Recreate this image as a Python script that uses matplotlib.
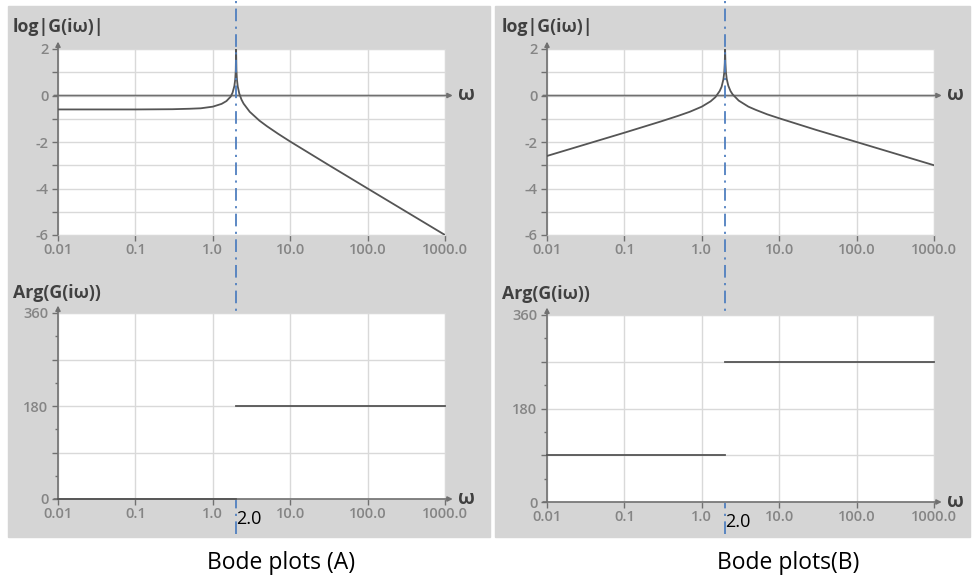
import numpy as np
import matplotlib.pyplot as plt
from matplotlib.patches import Rectangle
from matplotlib.ticker import FixedLocator, FuncFormatter, MultipleLocator

plt.rcParams['font.family'] = ['Open Sans', 'DejaVu Sans']

# values
xticks = [0.01, 0.1, 1.0, 10.0, 100.0, 1000.0]
xlabels = ['0.01', '0.1', '1.0', '10.0', '100.0', '1000.0']
w_res = 2.0

w_a = [0.01, 0.1, 0.3, 0.5, 0.7, 1.0, 1.3, 1.5, 1.7, 1.8, 1.9, 1.95, 1.98, 2.0,
       2.02, 2.05, 2.1, 2.2, 2.35, 2.5, 3.0, 4.0, 5.0, 7.0, 10.0, 30.0, 100.0, 1000.0]
mag_a = [-0.60, -0.60, -0.59, -0.57, -0.55, -0.48, -0.36, -0.24, -0.05, 0.12, 0.41, 0.70, 1.10, 2.0,
         1.10, 0.69, 0.39, 0.08, -0.18, -0.35, -0.70, -1.08, -1.32, -1.65, -1.98, -2.95, -4.0, -6.0]

w_b = [0.01, 0.1, 0.3, 0.5, 0.7, 1.0, 1.3, 1.5, 1.7, 1.8, 1.9, 1.95, 1.98, 2.0,
       2.02, 2.05, 2.1, 2.2, 2.35, 2.5, 3.0, 4.0, 5.0, 7.0, 10.0, 30.0, 100.0, 1000.0]
mag_b = [-2.60, -1.60, -1.11, -0.87, -0.70, -0.48, -0.25, -0.07, 0.19, 0.37, 0.69, 0.99, 1.40, 2.0,
         1.40, 1.00, 0.71, 0.42, 0.19, 0.05, -0.22, -0.48, -0.62, -0.81, -0.98, -1.48, -2.0, -3.0]

# phase: (omega start, omega end, value) per piece
phase_a = [(0.01, 2.0, 0), (2.0, 1000.0, 180)]
phase_b = [(0.01, 2.0, 90), (2.0, 1000.0, 270)]

W, H = 974, 580
fig = plt.figure(figsize=(W / 100, H / 100), dpi=100)

bg = '#d5d5d5'
axcol = '#707070'
tickcol = '#858585'
gridcol = '#d9d9d9'
curvecol = '#555555'
dashcol = '#4f7fbf'

# grey panels behind each pair of plots
fig.patches.append(Rectangle((8 / W, 1 - 537 / H), 482 / W, 531 / H,
                             transform=fig.transFigure, color=bg, zorder=-10))
fig.patches.append(Rectangle((495 / W, 1 - 537 / H), 475 / W, 531 / H,
                             transform=fig.transFigure, color=bg, zorder=-10))


def box(l, t, r, b):
    return [l / W, 1 - b / H, (r - l) / W, (b - t) / H]


def style(ax, ylim, major, minor, shown, xaxis_y):
    ax.set_xscale('log')
    ax.set_xlim(0.01, 1000)
    ax.set_ylim(*ylim)
    ax.set_facecolor('white')
    ax.xaxis.set_major_locator(FixedLocator(xticks))
    ax.xaxis.set_minor_locator(FixedLocator([]))
    ax.set_xticklabels(xlabels)
    ax.yaxis.set_major_locator(MultipleLocator(major))
    ax.yaxis.set_minor_locator(MultipleLocator(minor))
    ax.yaxis.set_major_formatter(FuncFormatter(
        lambda v, p: '%d' % v if round(v) in shown else ''))
    ax.grid(True, which='major', color=gridcol, lw=1)
    for s in ax.spines.values():
        s.set_color(gridcol)
    ax.tick_params(which='both', colors=axcol, labelcolor=tickcol, labelsize=10.5)
    ax.tick_params(which='major', length=4, width=1)
    ax.tick_params(which='minor', length=2.5, width=1)
    ax.tick_params(axis='x', pad=2)
    ax.tick_params(axis='y', pad=3)
    for lab in ax.get_xticklabels() + ax.get_yticklabels():
        lab.set_fontweight('semibold')
    # y axis with arrow
    ax.annotate('', xy=(0, 1.04), xytext=(0, 0), xycoords='axes fraction',
                arrowprops=dict(arrowstyle='-|>', color=axcol, lw=1.2,
                                mutation_scale=7, shrinkA=0, shrinkB=0))
    # x axis with arrow at y = xaxis_y
    yfrac = (xaxis_y - ylim[0]) / (ylim[1] - ylim[0])
    ax.annotate('', xy=(1.02, yfrac), xytext=(-0.01, yfrac), xycoords='axes fraction',
                arrowprops=dict(arrowstyle='-|>', color=axcol, lw=1.2,
                                mutation_scale=7, shrinkA=0, shrinkB=0))
    ax.text(1.033, yfrac, 'ω', transform=ax.transAxes, ha='left', va='center',
            fontsize=14, fontweight='bold', color='#404040')


panels = [
    (box(58, 49, 445, 235), box(58, 313, 445, 499), w_a, mag_a, phase_a),
    (box(547, 49, 934, 235), box(547, 315, 934, 502), w_b, mag_b, phase_b),
]

for top_box, bot_box, w, mag, phase in panels:
    ax1 = fig.add_axes(top_box)
    style(ax1, (-6, 2), 1, 1, {2, 0, -2, -4, -6}, 0)
    ax1.plot(w, mag, color=curvecol, lw=1.3, zorder=3)
    ax1.text(-0.117, 1.118, 'log|G(iω)|', transform=ax1.transAxes, ha='left', va='center',
             fontsize=12.8, fontweight='bold', color='#404040')

    ax2 = fig.add_axes(bot_box)
    style(ax2, (0, 360), 90, 45, {0, 180, 360}, 0)
    for w0, w1, v in phase:
        ax2.plot([w0, w1], [v, v], color=curvecol, lw=1.3, zorder=3, clip_on=False)
    ax2.text(-0.117, 1.11, 'Arg(G(iω))', transform=ax2.transAxes, ha='left', va='center',
             fontsize=12.8, fontweight='bold', color='#404040')
    ax2.text(w_res * 1.01, -0.105, '2.0', transform=ax2.get_xaxis_transform(), ha='left',
             va='center', fontsize=13, color='black')

    # dash-dot marker at the resonance, spanning both plots
    ax1.axvline(w_res, ymin=-1.61, ymax=1.27, color=dashcol, lw=1.3,
                dashes=(7, 3, 1.2, 3), clip_on=False, zorder=5)

fig.text(281 / W, 1 - 563 / H, 'Bode plots (A)', ha='center', va='center', fontsize=16.5)
fig.text(788 / W, 1 - 563 / H, 'Bode plots(B)', ha='center', va='center', fontsize=16.5)

fig.savefig('out.png', dpi=100)
